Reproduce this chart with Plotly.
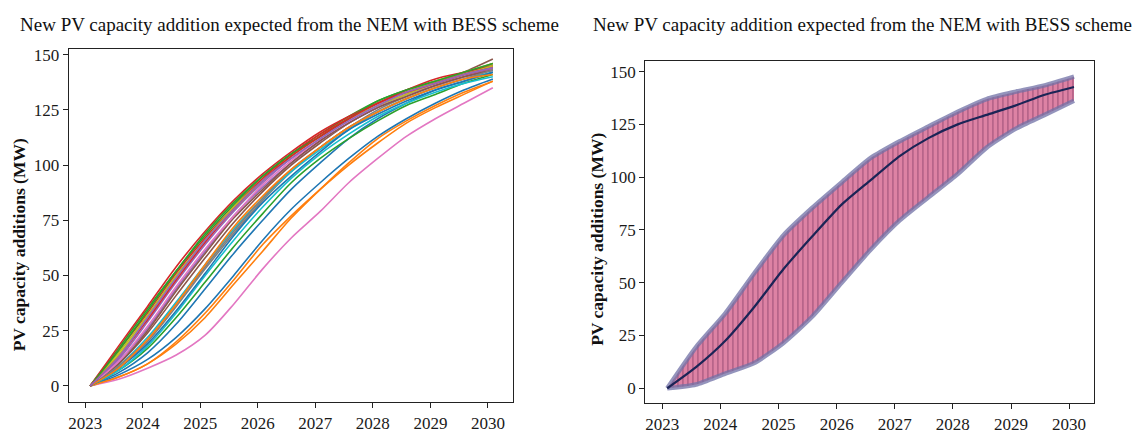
import plotly.graph_objects as go

# Half-yearly sample dates
dates = ["2023-02-01", "2023-08-01", "2024-02-01", "2024-08-01", "2025-02-01",
         "2025-08-01", "2026-02-01", "2026-08-01", "2027-02-01", "2027-08-01",
         "2028-02-01", "2028-08-01", "2029-02-01", "2029-08-01", "2030-02-01"]

# Simulated PV capacity addition paths (MW), one list per run
run_00 = [0, 6, 15, 28, 44, 60, 75, 89, 101, 112, 121, 128, 134, 138, 142]
run_01 = [0, 4, 10, 19, 31, 46, 61, 76, 89, 101, 112, 120, 127, 133, 138]
run_02 = [0, 17, 35, 52, 68, 82, 95, 105, 114, 122, 129, 134, 138, 141, 144]
run_03 = [0, 18, 36, 54, 70, 84, 96, 106, 115, 122, 128, 133, 137, 141, 146]
run_04 = [0, 12, 29, 47, 64, 79, 92, 103, 112, 120, 127, 132, 137, 141, 145]
run_05 = [0, 10, 24, 41, 58, 74, 88, 100, 110, 119, 126, 132, 137, 142, 148]
run_06 = [0, 3, 8, 14, 23, 37, 53, 67, 79, 92, 103, 113, 121, 128, 135]
run_07 = [0, 8, 20, 36, 53, 69, 84, 97, 108, 117, 125, 131, 136, 140, 144]
run_08 = [0, 14, 31, 49, 66, 80, 93, 104, 113, 121, 128, 133, 138, 142, 146]
run_09 = [0, 9, 22, 38, 55, 71, 85, 97, 107, 116, 124, 130, 135, 139, 142]
run_10 = [0, 5, 12, 22, 35, 50, 66, 80, 92, 103, 113, 121, 128, 134, 139]
run_11 = [0, 4, 10, 20, 33, 48, 64, 77, 89, 100, 110, 119, 126, 132, 138]
run_12 = [0, 7, 17, 31, 47, 63, 78, 92, 103, 112, 120, 127, 132, 137, 141]
run_13 = [0, 16, 33, 51, 67, 81, 94, 105, 114, 121, 128, 134, 139, 142, 145]
run_14 = [0, 11, 26, 44, 61, 77, 90, 101, 111, 119, 126, 132, 136, 140, 143]
run_15 = [0, 10, 25, 43, 60, 76, 89, 101, 111, 119, 126, 131, 136, 140, 143]
run_16 = [0, 11, 27, 45, 62, 77, 91, 102, 112, 120, 127, 132, 137, 141, 144]
run_17 = [0, 9, 21, 37, 54, 70, 85, 98, 108, 117, 124, 130, 135, 139, 143]
run_18 = [0, 15, 32, 50, 66, 81, 93, 104, 113, 121, 127, 132, 137, 141, 145]
run_19 = [0, 7, 18, 33, 50, 66, 81, 94, 105, 114, 122, 128, 133, 137, 140]
run_20 = [0, 8, 19, 34, 51, 68, 83, 95, 106, 116, 123, 129, 134, 138, 142]
run_21 = [0, 8, 21, 37, 55, 72, 86, 98, 108, 117, 124, 130, 135, 139, 141]
run_22 = [0, 16, 34, 52, 69, 83, 95, 105, 113, 121, 129, 134, 138, 142, 146]
run_23 = [0, 13, 30, 48, 65, 80, 93, 104, 113, 121, 128, 133, 137, 141, 144]
run_24 = [0, 13, 31, 49, 66, 80, 93, 103, 112, 120, 127, 133, 137, 141, 144]

runs = [run_00, run_01, run_02, run_03, run_04, run_05, run_06, run_07, run_08,
        run_09, run_10, run_11, run_12, run_13, run_14, run_15, run_16, run_17,
        run_18, run_19, run_20, run_21, run_22, run_23, run_24]

# Ensemble summary: mean path with lower / upper bounds (MW)
mean_path = [0, 10, 22.5, 38.5, 56.5, 72, 87, 98.5, 110, 118.5, 125, 129.5, 134, 139, 142.7]
upper_path = [0, 19.5, 35.5, 54.5, 72.5, 85.5, 97.5, 109, 117, 124, 131, 137, 140.5, 143.5, 147.6]
lower_path = [0, 1.8, 7, 12, 21.5, 34, 50, 65.5, 79.5, 90.5, 101.5, 114, 123, 129.5, 136.2]

year_ticks = ["2023", "2024", "2025", "2026", "2027", "2028", "2029", "2030"]
value_ticks = [0, 25, 50, 75, 100, 125, 150]

palette = ["#1f77b4", "#ff7f0e", "#2ca02c", "#d62728", "#9467bd",
           "#8c564b", "#e377c2", "#7f7f7f", "#bcbd22", "#17becf"]

W, H = 1142, 438
SERIF = "Liberation Serif, Times New Roman, serif"

fig = go.Figure()

for i, run in enumerate(runs):
    fig.add_trace(go.Scatter(
        x=dates, y=run, mode="lines", xaxis="x", yaxis="y",
        line=dict(color=palette[i % 10], width=1.6, shape="spline", smoothing=0.8),
        showlegend=False, hoverinfo="skip"))

# Band between lower and upper paths, hatched with vertical lines
fig.add_trace(go.Scatter(
    x=dates, y=lower_path, mode="lines", xaxis="x2", yaxis="y2",
    line=dict(color="rgba(0,0,0,0)", width=0, shape="spline", smoothing=0.6),
    showlegend=False, hoverinfo="skip"))
fig.add_trace(go.Scatter(
    x=dates, y=upper_path, mode="lines", xaxis="x2", yaxis="y2",
    fill="tonexty", fillcolor="#dc7fa2",
    fillpattern=dict(shape="|", bgcolor="#dd82a4", fgcolor="#9a4e76",
                     size=5, solidity=0.2, fillmode="replace"),
    line=dict(color="rgba(0,0,0,0)", width=0, shape="spline", smoothing=0.6),
    showlegend=False, hoverinfo="skip"))
for edge in (upper_path, lower_path):
    fig.add_trace(go.Scatter(
        x=dates, y=edge, mode="lines", xaxis="x2", yaxis="y2",
        line=dict(color="rgba(112,112,165,0.75)", width=4.5, shape="spline", smoothing=0.6),
        showlegend=False, hoverinfo="skip"))
fig.add_trace(go.Scatter(
    x=dates, y=mean_path, mode="lines", xaxis="x2", yaxis="y2",
    line=dict(color="#1b2456", width=2.2, shape="spline", smoothing=0.6),
    showlegend=False, hoverinfo="skip"))

tick_font = dict(family=SERIF, size=17, color="#1a1a1a")
axis_common = dict(showline=True, linecolor="#222", linewidth=1.4, mirror=True,
                   ticks="outside", ticklen=5, tickwidth=1.2, tickcolor="#222",
                   showgrid=False, zeroline=False, tickfont=tick_font)

def xaxis_spec(domain, rng, anchor):
    return dict(axis_common, domain=domain, range=rng, anchor=anchor, type="date",
                tickvals=[y + "-01-01" for y in year_ticks], ticktext=year_ticks)

def yaxis_spec(domain, rng, anchor):
    return dict(axis_common, domain=domain, range=rng, anchor=anchor,
                tickvals=value_ticks, ticktext=[str(v) for v in value_ticks])

fig.update_layout(
    width=W, height=H,
    margin=dict(l=0, r=0, t=0, b=0),
    paper_bgcolor="white", plot_bgcolor="white",
    xaxis=xaxis_spec([68 / W, 512 / W], ["2022-09-20", "2030-06-06"], "y"),
    yaxis=yaxis_spec([1 - 402 / H, 1 - 46 / H], [-7.4, 152.7], "x"),
    xaxis2=xaxis_spec([645 / W, 1094 / W], ["2022-09-17", "2030-06-07"], "y2"),
    yaxis2=yaxis_spec([1 - 403 / H, 1 - 58 / H], [-7.06, 155.2], "x2"),
)

title_text = "New PV capacity addition expected from the NEM with BESS scheme"
ylabel_text = "PV capacity additions (MW)"
for cx in (289, 862):
    fig.add_annotation(text=title_text, x=cx / W, y=1 - 22 / H, xref="paper", yref="paper",
                       xanchor="center", yanchor="middle", showarrow=False,
                       font=dict(family=SERIF, size=19, color="#111"))
for cx, cy in ((18, 243), (597, 238)):
    fig.add_annotation(text="<b>" + ylabel_text + "</b>", x=cx / W, y=1 - cy / H,
                       xref="paper", yref="paper", xanchor="center", yanchor="middle",
                       textangle=-90, showarrow=False,
                       font=dict(family=SERIF, size=17.5, color="#111"))

fig.write_html("out.html")
